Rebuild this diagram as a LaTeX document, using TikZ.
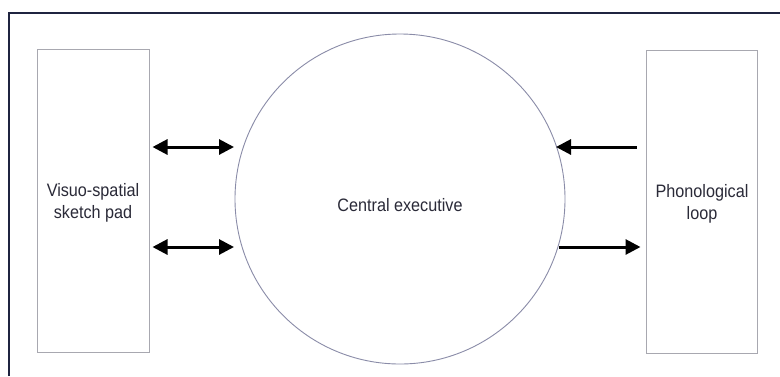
\documentclass[tikz,border=0pt]{standalone}
\usepackage{fontspec}
\setmainfont{Liberation Sans}[FakeStretch=0.9]
\usetikzlibrary{arrows.meta}
\definecolor{framec}{HTML}{1F2440}
\definecolor{boxc}{HTML}{A8A8B0}
\definecolor{circc}{HTML}{8A8CA8}
\definecolor{txtc}{HTML}{2A2A38}
\begin{document}
\begin{tikzpicture}[x=1pt,y=-1pt,
  lbl/.style={font=\fontsize{18}{22}\selectfont, text=txtc, align=center, inner sep=0pt},
  panel/.style={draw=boxc, line width=1pt, minimum width=112pt, minimum height=303pt, inner sep=0pt},
  core/.style={draw=circc, line width=0.9pt, circle, minimum size=330pt, inner sep=0pt},
  arr/.style={draw=black, line width=3pt, -{Triangle[length=15pt,width=15pt]}},
  biarr/.style={draw=black, line width=3pt, {Triangle[length=15pt,width=15pt]}-{Triangle[length=15pt,width=15pt]}}]
\useasboundingbox (0,0) rectangle (780,376);
\fill[white] (0,0) rectangle (780,376);
\draw[framec, line width=1.3pt] (9,376) -- (9,13) -- (780,13);
\node[panel] (vs) at (93,200.5) {};
\node[panel, minimum width=111pt] (pl) at (701.5,201.5) {};
\node[core] (ce) at (400,199) {};
\node[lbl] (vst) at (93,203) {Visuo-spatial\\sketch pad};
\node[lbl] (cet) at (400,205) {Central executive};
\node[lbl] (plt) at (702,204) {Phonological\\loop};
\coordinate (l1a) at ([xshift=3pt]vs.east |- 0,147);
\coordinate (l1b) at (234,147);
\coordinate (l2a) at ([xshift=3pt]vs.east |- 0,247);
\coordinate (l2b) at (234,247);
\coordinate (r1a) at ([xshift=-9pt]pl.west |- 0,147);
\coordinate (r1b) at (556,147);
\coordinate (r2a) at (559,247);
\coordinate (r2b) at ([xshift=-5pt]pl.west |- 0,247);
\draw[biarr] (l1a) -- (l1b);
\draw[biarr] (l2a) -- (l2b);
\draw[arr] (r1a) -- (r1b);
\draw[arr] (r2a) -- (r2b);
\end{tikzpicture}
\end{document}
